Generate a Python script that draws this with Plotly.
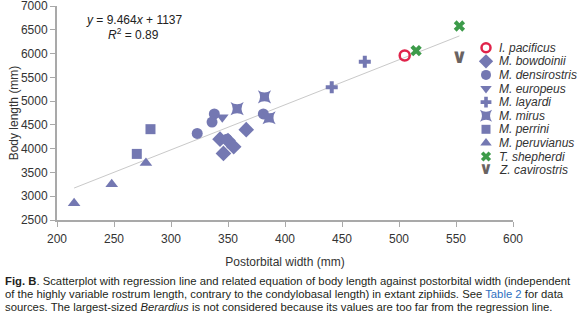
import plotly.graph_objects as go

# ---------------- data ----------------
species = ["I. pacificus", "M. bowdoinii", "M. densirostris", "M. europeus", "M. layardi",
           "M. mirus", "M. perrini", "M. peruvianus", "T. shepherdi", "Z. cavirostris"]

pacificus_x = [505]
pacificus_y = [5960]
bowdoinii_x = [343, 350, 355, 346, 366]
bowdoinii_y = [4200, 4170, 4040, 3900, 4400]
densirostris_x = [323, 338, 336, 381, 349]
densirostris_y = [4320, 4730, 4560, 4730, 4200]
europeus_x = [345]
europeus_y = [4660]
layardi_x = [441, 470]
layardi_y = [5290, 5830]
mirus_x = [358, 382, 386]
mirus_y = [4840, 5090, 4650]
perrini_x = [270, 282]
perrini_y = [3890, 4410]
peruvianus_x = [215, 248, 278]
peruvianus_y = [2850, 3250, 3700]
shepherdi_x = [515, 553]
shepherdi_y = [6060, 6580]
cavirostris_x = [553]
cavirostris_y = [5900]

slope = 9.464
intercept = 1137
r_squared = 0.89

x_ticks = [200, 250, 300, 350, 400, 450, 500, 550, 600]
y_ticks = [2500, 3000, 3500, 4000, 4500, 5000, 5500, 6000, 6500, 7000]

caption_lines = [
    "<b>Fig. B</b>. Scatterplot with regression line and related equation of body length against postorbital width (independent",
    "of the highly variable rostrum length, contrary to the condylobasal length) in extant ziphiids. See "
    "<span style='color:#2f6fbf'>Table 2</span> for data",
    "sources. The largest-sized <i>Berardius</i> is not considered because its values are too far from the regression line.",
]

# ---------------- styles ----------------
BLUE = "#7478b2"
RED = "#e0234a"
GREEN = "#3d9b4a"
GRAY = "#6a6362"
FONT = "Liberation Sans"
VMARK = "\u2228"  # chevron glyph used for Z. cavirostris

series = [
    (pacificus_x, pacificus_y, dict(symbol="circle-open", size=10, color=RED, line=dict(width=2.5, color=RED))),
    (bowdoinii_x, bowdoinii_y, dict(symbol="diamond", size=12, color=BLUE)),
    (densirostris_x, densirostris_y, dict(symbol="circle", size=11, color=BLUE)),
    (europeus_x, europeus_y, dict(symbol="triangle-down", size=11, color=BLUE)),
    (layardi_x, layardi_y, dict(symbol="cross", size=10, color=BLUE)),
    (mirus_x, mirus_y, dict(symbol="star-square", size=12, color=BLUE)),
    (perrini_x, perrini_y, dict(symbol="square", size=10, color=BLUE)),
    (peruvianus_x, peruvianus_y, dict(symbol="triangle-up", size=11, color=BLUE)),
    (shepherdi_x, shepherdi_y, dict(symbol="x", size=10, color=GREEN)),
    (cavirostris_x, cavirostris_y, None),
]

fig = go.Figure()

# regression line over the data span
all_x = [v for s in series for v in s[0]]
lx = [min(all_x), max(all_x)]
ly = [slope * v + intercept for v in lx]
fig.add_trace(go.Scatter(x=lx, y=ly, mode="lines", line=dict(color="#c9c9c9", width=1),
                         showlegend=False, hoverinfo="skip"))

vfont = dict(family="DejaVu Sans", size=20, color=GRAY, weight="bold")

for name, (xs, ys, mk) in zip(species, series):
    if mk is None:
        fig.add_trace(go.Scatter(x=xs, y=ys, mode="text", name=name, text=[VMARK] * len(xs),
                                 textposition="middle center", textfont=vfont,
                                 showlegend=False, cliponaxis=False))
    else:
        fig.add_trace(go.Scatter(x=xs, y=ys, mode="markers", name=name, marker=mk,
                                 showlegend=False, cliponaxis=False))

# compact legend on an overlay axis (row index based)
ROW_PX = 13.6
LEG_X = 429
LEG_Y0 = 41.7
for i, (name, (xs, ys, mk)) in enumerate(zip(species, series)):
    ry = LEG_Y0 + ROW_PX * i
    if mk is None:
        vf = dict(vfont)
        vf["size"] = 17
        fig.add_trace(go.Scatter(x=[LEG_X], y=[ry], xaxis="x2", yaxis="y2", mode="text",
                                 text=[VMARK], textposition="middle center", textfont=vf,
                                 showlegend=False, cliponaxis=False, hoverinfo="skip"))
    else:
        mk2 = dict(mk)
        mk2["size"] = mk["size"] - 1
        fig.add_trace(go.Scatter(x=[LEG_X], y=[ry], xaxis="x2", yaxis="y2", mode="markers",
                                 marker=mk2, showlegend=False, cliponaxis=False, hoverinfo="skip"))
    fig.add_annotation(xref="x2", yref="y2", x=LEG_X + 11, y=ry, xanchor="left", yanchor="middle",
                       showarrow=False, text="<i>" + name + "</i>",
                       font=dict(family=FONT, size=12, color="#333333"))

axis_common = dict(showgrid=False, zeroline=False, showline=True, linecolor="#a9a9a9", linewidth=2,
                   ticks="outside", ticklen=5, tickcolor="#a9a9a9", tickwidth=1, automargin=False,
                   ticklabeloverflow="allow",
                   tickfont=dict(family=FONT, size=12, color="#333333"))

fig.update_layout(
    width=580, height=323,
    margin=dict(l=57, r=67, t=6, b=103),
    paper_bgcolor="white", plot_bgcolor="white",
    font=dict(family=FONT, color="#333333"),
    xaxis=dict(range=[200, 600], tickvals=x_ticks, ticklabelstandoff=2, **axis_common,
               title=dict(text="Postorbital width (mm)", standoff=12,
                          font=dict(family=FONT, size=12, color="#333333"))),
    yaxis=dict(range=[2500, 7000], tickvals=y_ticks, **axis_common,
               title=dict(text="Body length (mm)", standoff=0,
                          font=dict(family=FONT, size=12, color="#333333"))),
    xaxis2=dict(overlaying="x", anchor="y2", range=[0, 456], visible=False, fixedrange=True),
    yaxis2=dict(overlaying="y", anchor="x2", range=[214, 0], visible=False, fixedrange=True),
)

fig.add_annotation(xref="paper", yref="paper", x=0.171, y=0.935, xanchor="center", yanchor="middle",
                   showarrow=False, text="<i>y</i> = %.3f<i>x</i> + %d" % (slope, intercept),
                   font=dict(family=FONT, size=12, color="#222222"))
fig.add_annotation(xref="paper", yref="paper", x=0.167, y=0.87, xanchor="center", yanchor="middle",
                   showarrow=False, text="<i>R</i><sup>2</sup> = %.2f" % r_squared,
                   font=dict(family=FONT, size=12, color="#222222"))

CAP_Y = [-0.2836, -0.3458, -0.405]
for line, cy in zip(caption_lines, CAP_Y):
    fig.add_annotation(xref="paper", yref="paper", x=-0.118, y=cy, xanchor="left", yanchor="middle",
                       align="left", showarrow=False, text=line,
                       font=dict(family=FONT, size=11.3, color="#231f20"))

fig.write_html("out.html", config={"displayModeBar": False},
               post_script="document.body.style.margin='0';")
